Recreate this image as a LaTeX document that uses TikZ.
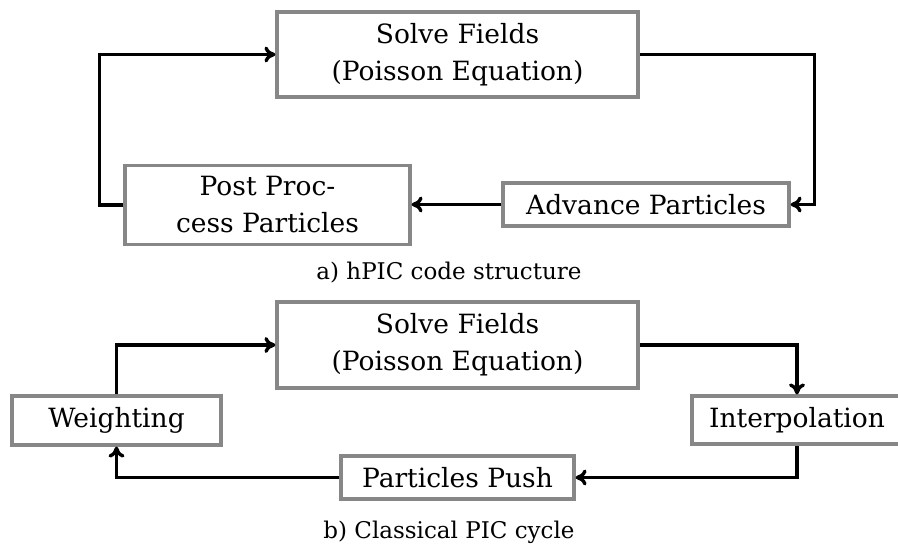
\documentclass[tikz,border=0pt]{standalone}
\usepackage{fontspec}
\setmainfont{DejaVu Serif}
\usetikzlibrary{arrows.meta}
\begin{document}
\begin{tikzpicture}[x=1pt,y=-1pt,
  box/.style={draw=black!47,line width=3.2pt,fill=white,inner sep=0pt,align=center,
    font=\fontsize{26.5}{37}\selectfont},
  arr/.style={line width=3.4pt,-{To[length=11pt,width=16pt]}},
  captext/.style={font=\fontsize{23}{26}\selectfont}]
\useasboundingbox (0,0) rectangle (898,550);
% a)
\node[box,minimum width=361pt,minimum height=85pt] (sfa) at (457.5,54.5) {Solve Fields\\(Poisson Equation)};
\node[box,minimum width=285pt,minimum height=79pt] (pp) at (267.5,205) {Post Proc-\\cess Particles};
\node[box,minimum width=286pt,minimum height=43pt] (ap) at (646,204.5) {Advance Particles};
\node[captext] (capa) at (449,273) {a) hPIC code structure};
\draw[arr] (pp.west) -- ++(-24,0) |- (sfa.west);
\draw[arr] (sfa.east) -- ++(175,0) |- (ap.east);
\draw[arr] (ap.west) -- (ap.west -| pp.east);
% b)
\node[box,minimum width=361pt,minimum height=86pt] (sfb) at (457.5,345) {Solve Fields\\(Poisson Equation)};
\node[box,minimum width=209pt,minimum height=49pt] (wt) at (116.5,420.5) {Weighting};
\node[box,minimum width=210pt,minimum height=48pt] (ip) at (797,420) {Interpolation};
\node[box,minimum width=233pt,minimum height=43pt] (pu) at (457.5,477.5) {Particles Push};
\node[captext] (capb) at (449,532) {b) Classical PIC cycle};
\draw[arr] (wt.north) |- (sfb.west);
\draw[arr] (sfb.east) -| (ip.north);
\draw[arr] (ip.south) |- (pu.east);
\draw[arr] (pu.west) -| (wt.south);
\end{tikzpicture}
\end{document}
